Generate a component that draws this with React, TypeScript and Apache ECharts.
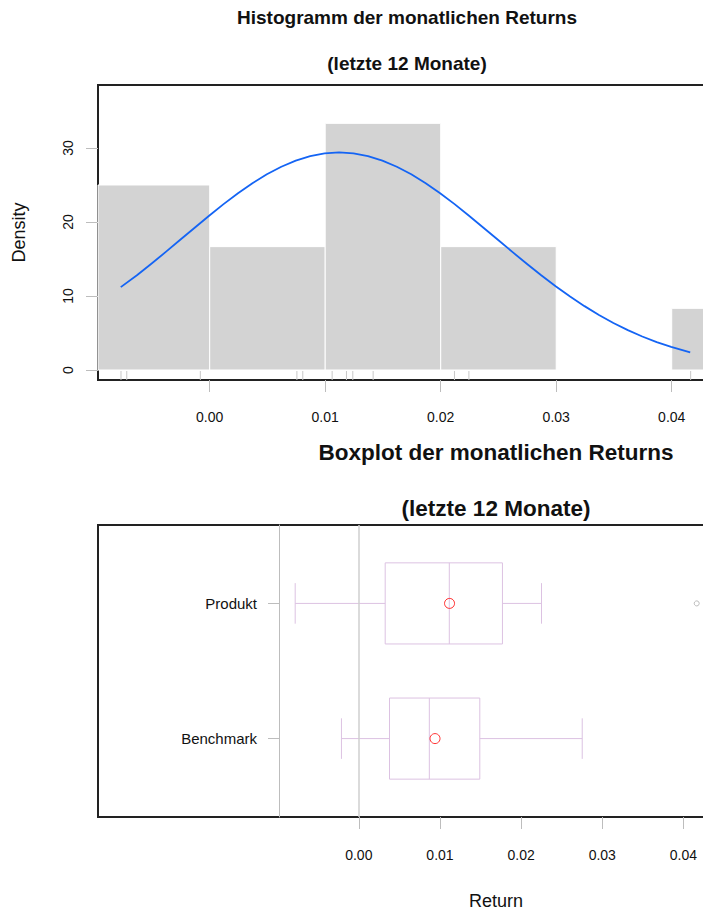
import React, { useEffect, useRef } from "react";
import * as echarts from "echarts";

// ---------- data ----------
const histBreaks = [-0.01, 0, 0.01, 0.02, 0.03, 0.04, 0.05];
const histDensity = [25, 16.67, 33.33, 16.67, 0, 8.33];
const rugReturns = [
  -0.00768, -0.00718, -0.00081, 0.00755, 0.00806, 0.0106, 0.01184, 0.01239,
  0.01415, 0.02119, 0.02244, 0.04164,
];
const curveX = [
  -0.0077, -0.0063, -0.00505, -0.0038, -0.00255, -0.0013, -0.00005, 0.0012,
  0.00245, 0.0037, 0.00495, 0.0062, 0.00745, 0.0087, 0.00995, 0.0112, 0.01245,
  0.0137, 0.01495, 0.0162, 0.01745, 0.0187, 0.01995, 0.0212, 0.02245, 0.0237,
  0.02495, 0.0262, 0.02745, 0.0287, 0.02995, 0.0312, 0.03245, 0.0337, 0.03495,
  0.0362, 0.03745, 0.0387, 0.03995, 0.0416,
];
const curveY = [
  11.2, 12.8, 14.35, 15.96, 17.6, 19.23, 20.85, 22.41, 23.88, 25.24, 26.44,
  27.47, 28.3, 28.91, 29.28, 29.4, 29.28, 28.91, 28.3, 27.47, 26.44, 25.24,
  23.88, 22.41, 20.85, 19.23, 17.6, 15.96, 14.35, 12.8, 11.32, 9.92, 8.63,
  7.44, 6.36, 5.39, 4.53, 3.77, 3.12, 2.38,
];
const returnTicks = [0, 0.01, 0.02, 0.03, 0.04];
const densityTicks = [0, 10, 20, 30];

const boxCategories = ["Benchmark", "Produkt"];
const boxLow = [-0.00214, -0.00784];
const boxQ1 = [0.00378, 0.00325];
const boxMedian = [0.00869, 0.01115];
const boxQ3 = [0.01491, 0.0177];
const boxHigh = [0.02753, 0.02251];
const boxMean = [0.00939, 0.01118];
const outlierCategory = ["Produkt"];
const outlierValue = [0.04164];

const FONT = "'Liberation Sans', Arial, Helvetica, sans-serif";
const BOX_COLOR = "#dcc2e2";
const TICK_COLOR = "#bdbdbd";

export default function App() {
  const ref = useRef<HTMLDivElement>(null);

  useEffect(() => {
    if (!ref.current) return;
    const chart = echarts.init(ref.current, undefined, { renderer: "svg" });

    const histData = histDensity.map((d, i) => [histBreaks[i], histBreaks[i + 1], d]);
    const boxData = boxCategories.map((_, i) => [
      i + 1,
      boxLow[i],
      boxQ1[i],
      boxMedian[i],
      boxQ3[i],
      boxHigh[i],
    ]);

    const tickFmt = (v: number) => v.toFixed(2);

    const option: any = {
      animation: false,
      backgroundColor: "#ffffff",
      textStyle: { fontFamily: FONT },
      grid: [
        {
          left: 98,
          top: 85,
          width: 616,
          height: 295,
          show: true,
          borderColor: "#222222",
          borderWidth: 2,
          backgroundColor: "transparent",
        },
        {
          left: 98,
          top: 525,
          width: 796,
          height: 297,
          show: true,
          borderColor: "#222222",
          borderWidth: 2,
          backgroundColor: "transparent",
        },
      ],
      xAxis: [
        {
          type: "value",
          gridIndex: 0,
          min: -0.00967,
          max: 0.04366,
          axisLine: { show: false, onZero: false },
          splitLine: { show: false },
          axisTick: {
            show: true,
            length: 12,
            customValues: returnTicks,
            lineStyle: { color: TICK_COLOR, width: 1 },
          },
          axisLabel: {
            customValues: returnTicks,
            formatter: tickFmt,
            fontSize: 14,
            color: "#111",
            margin: 30,
            fontFamily: FONT,
          },
        },
        {
          type: "value",
          gridIndex: 1,
          min: -0.03214,
          max: 0.06595,
          name: "Return",
          nameLocation: "middle",
          nameGap: 75,
          nameTextStyle: { fontSize: 18, color: "#111", fontFamily: FONT },
          axisLine: { show: false, onZero: false },
          splitLine: { show: false },
          axisTick: {
            show: true,
            length: 12,
            customValues: returnTicks,
            lineStyle: { color: TICK_COLOR, width: 1 },
          },
          axisLabel: {
            customValues: returnTicks,
            formatter: tickFmt,
            fontSize: 14,
            color: "#111",
            margin: 31,
            fontFamily: FONT,
          },
        },
      ],
      yAxis: [
        {
          type: "value",
          gridIndex: 0,
          min: -1.35,
          max: 38.51,
          name: "Density",
          nameLocation: "middle",
          nameGap: 70,
          nameRotate: 90,
          nameTextStyle: { fontSize: 18, color: "#111", fontFamily: FONT },
          axisLine: { show: false, onZero: false },
          splitLine: { show: false },
          axisTick: {
            show: true,
            length: 12,
            customValues: densityTicks,
            lineStyle: { color: TICK_COLOR, width: 1 },
          },
          axisLabel: {
            customValues: densityTicks,
            rotate: 90,
            fontSize: 14,
            color: "#111",
            margin: 23,
            fontFamily: FONT,
          },
        },
        {
          type: "value",
          gridIndex: 1,
          min: 0.42,
          max: 2.58,
          offset: -181,
          axisLine: { show: true, onZero: false, lineStyle: { color: TICK_COLOR, width: 1 } },
          splitLine: { show: false },
          axisTick: {
            show: true,
            length: 11,
            customValues: [1, 2],
            lineStyle: { color: TICK_COLOR, width: 1 },
          },
          axisLabel: {
            customValues: [1, 2],
            formatter: (v: number) => boxCategories[Math.round(v) - 1] ?? "",
            fontSize: 15,
            color: "#111",
            margin: 22,
            fontFamily: FONT,
          },
        },
      ],
      graphic: [
        {
          type: "text",
          x: 407,
          y: 17,
          style: {
            text: "Histogramm der monatlichen Returns",
            font: `bold 19px ${FONT}`,
            fill: "#111",
            textAlign: "center",
            textVerticalAlign: "middle",
          },
        },
        {
          type: "text",
          x: 407,
          y: 63,
          style: {
            text: "(letzte 12 Monate)",
            font: `bold 19px ${FONT}`,
            fill: "#111",
            textAlign: "center",
            textVerticalAlign: "middle",
          },
        },
        {
          type: "text",
          x: 496,
          y: 452,
          style: {
            text: "Boxplot der monatlichen Returns",
            font: `bold 22.5px ${FONT}`,
            fill: "#111",
            textAlign: "center",
            textVerticalAlign: "middle",
          },
        },
        {
          type: "text",
          x: 496,
          y: 508,
          style: {
            text: "(letzte 12 Monate)",
            font: `bold 22.5px ${FONT}`,
            fill: "#111",
            textAlign: "center",
            textVerticalAlign: "middle",
          },
        },
      ],
      series: [
        {
          type: "custom",
          name: "Histogramm",
          xAxisIndex: 0,
          yAxisIndex: 0,
          encode: { x: [0, 1], y: 2 },
          data: histData,
          renderItem: (params: any, api: any) => {
            const x0 = api.value(0);
            const x1 = api.value(1);
            const d = api.value(2);
            const p0 = api.coord([x0, d]);
            const p1 = api.coord([x1, 0]);
            const cs = params.coordSys;
            const rect = echarts.graphic.clipRectByRect(
              { x: p0[0], y: p0[1], width: p1[0] - p0[0], height: p1[1] - p0[1] },
              { x: cs.x, y: cs.y, width: cs.width, height: cs.height }
            );
            if (!rect) return null;
            return {
              type: "rect",
              shape: rect,
              style: { fill: "#d3d3d3", stroke: "#ffffff", lineWidth: 1 },
            };
          },
          z: 1,
        },
        {
          type: "custom",
          name: "Rug",
          xAxisIndex: 0,
          yAxisIndex: 0,
          encode: { x: 0, y: 1 },
          data: rugReturns.map((v) => [v, 0]),
          renderItem: (params: any, api: any) => {
            const p = api.coord([api.value(0), 0]);
            const cs = params.coordSys;
            const bottom = cs.y + cs.height;
            return {
              type: "line",
              shape: { x1: p[0], y1: bottom, x2: p[0], y2: bottom - 9 },
              style: { stroke: "#c8c8c8", lineWidth: 1 },
            };
          },
          z: 2,
        },
        {
          type: "line",
          name: "Normalverteilung",
          xAxisIndex: 0,
          yAxisIndex: 0,
          data: curveX.map((x, i) => [x, curveY[i]]),
          smooth: false,
          showSymbol: false,
          lineStyle: { color: "#1464f4", width: 1.8, join: "round" },
          z: 3,
        },
        {
          type: "custom",
          name: "Boxplot",
          xAxisIndex: 1,
          yAxisIndex: 1,
          encode: { x: [1, 2, 3, 4, 5], y: 0 },
          data: boxData,
          renderItem: (params: any, api: any) => {
            const pos = api.value(0);
            const lo = api.value(1);
            const q1 = api.value(2);
            const md = api.value(3);
            const q3 = api.value(4);
            const hi = api.value(5);
            const halfBox = api.size([0, 0.6])[1] / 2;
            const halfCap = halfBox / 2;
            const yc = api.coord([md, pos])[1];
            const X = (v: number) => api.coord([v, pos])[0];
            const style = { stroke: BOX_COLOR, fill: "none", lineWidth: 1 };
            return {
              type: "group",
              children: [
                { type: "line", shape: { x1: X(lo), y1: yc, x2: X(q1), y2: yc }, style },
                { type: "line", shape: { x1: X(q3), y1: yc, x2: X(hi), y2: yc }, style },
                { type: "line", shape: { x1: X(lo), y1: yc - halfCap, x2: X(lo), y2: yc + halfCap }, style },
                { type: "line", shape: { x1: X(hi), y1: yc - halfCap, x2: X(hi), y2: yc + halfCap }, style },
                {
                  type: "rect",
                  shape: { x: X(q1), y: yc - halfBox, width: X(q3) - X(q1), height: 2 * halfBox },
                  style,
                },
                { type: "line", shape: { x1: X(md), y1: yc - halfBox, x2: X(md), y2: yc + halfBox }, style },
              ],
            };
          },
          z: 3,
        },
        {
          type: "scatter",
          name: "Mittelwert",
          xAxisIndex: 1,
          yAxisIndex: 1,
          data: boxMean.map((m, i) => [m, i + 1]),
          symbol: "circle",
          symbolSize: 10,
          itemStyle: { color: "transparent", borderColor: "#ff0000", borderWidth: 1 },
          markLine: {
            silent: true,
            symbol: "none",
            label: { show: false },
            lineStyle: { color: "#cfcfcf", width: 1.5, type: "solid" },
            data: [{ xAxis: 0 }],
          },
          z: 4,
        },
        {
          type: "scatter",
          name: "Ausreißer",
          xAxisIndex: 1,
          yAxisIndex: 1,
          data: outlierValue.map((v, i) => [v, boxCategories.indexOf(outlierCategory[i]) + 1]),
          symbol: "circle",
          symbolSize: 5,
          itemStyle: { color: "transparent", borderColor: "#aaaaaa", borderWidth: 1 },
          z: 4,
        },
      ],
    };

    chart.setOption(option);
    return () => chart.dispose();
  }, []);

  return (
    <div
      style={{
        position: "fixed",
        left: 0,
        top: 0,
        width: 703,
        height: 911,
        overflow: "hidden",
        background: "#fff",
      }}
    >
      <div ref={ref} style={{ width: 900, height: 911 }} />
    </div>
  );
}
